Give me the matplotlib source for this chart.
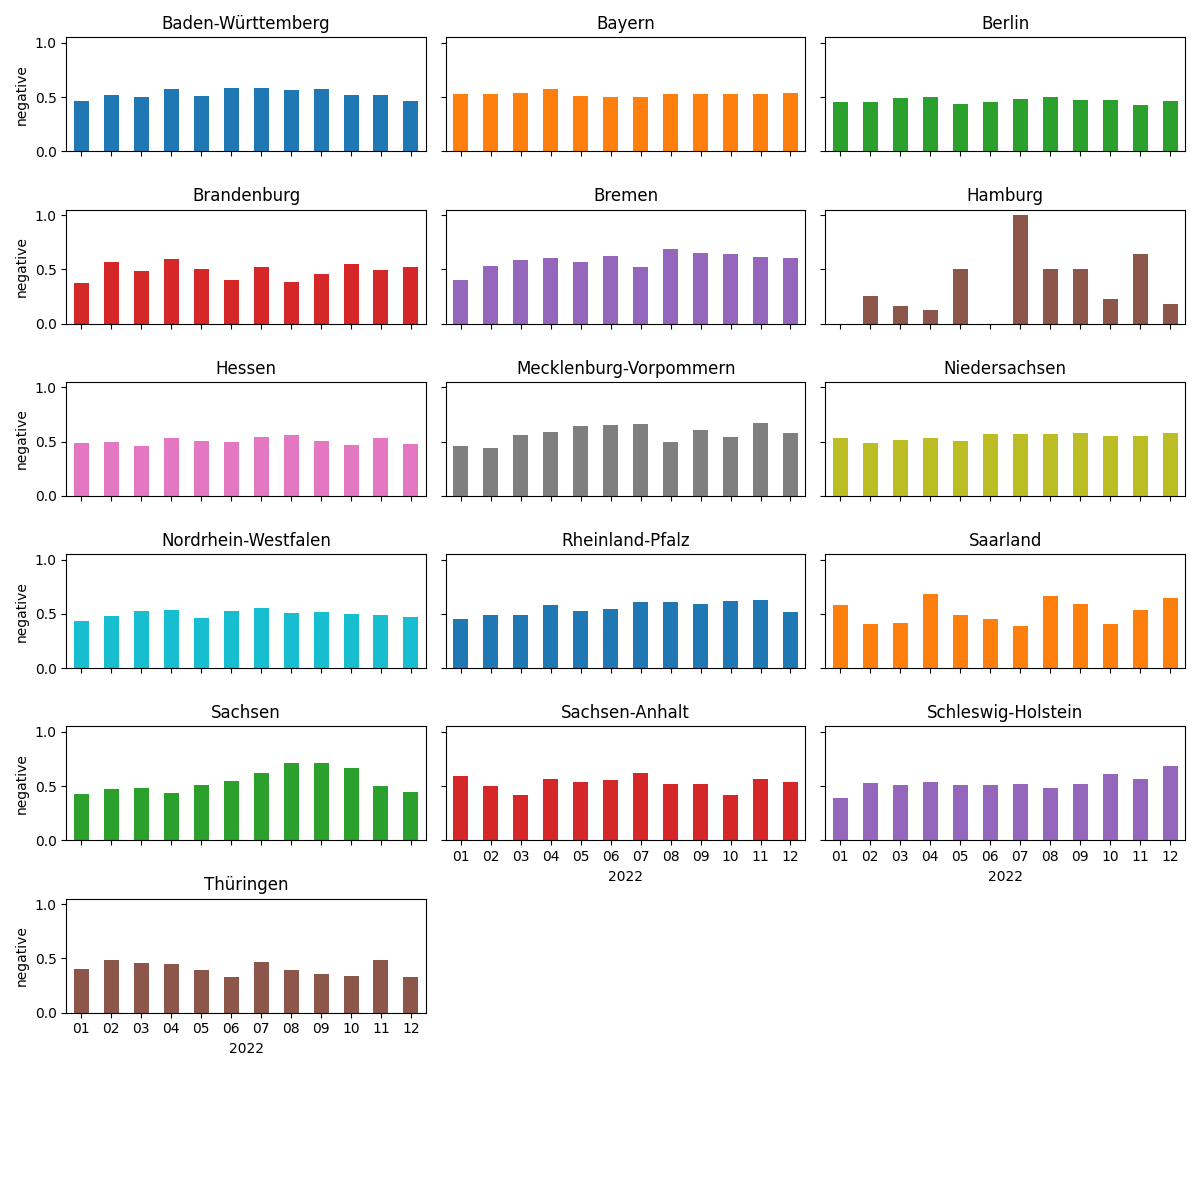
import numpy as np
import matplotlib
matplotlib.use("Agg")
import matplotlib.pyplot as plt

months = ["01", "02", "03", "04", "05", "06", "07", "08", "09", "10", "11", "12"]
year_label = "2022"

states = [
    "Baden-Württemberg", "Bayern", "Berlin", "Brandenburg", "Bremen", "Hamburg",
    "Hessen", "Mecklenburg-Vorpommern", "Niedersachsen", "Nordrhein-Westfalen",
    "Rheinland-Pfalz", "Saarland", "Sachsen", "Sachsen-Anhalt",
    "Schleswig-Holstein", "Thüringen",
]

baden_wuerttemberg = [0.464, 0.518, 0.500, 0.573, 0.509, 0.582, 0.582, 0.564, 0.573, 0.518, 0.518, 0.464]
bayern = [0.527, 0.527, 0.536, 0.573, 0.509, 0.500, 0.500, 0.527, 0.527, 0.527, 0.527, 0.536]
berlin = [0.455, 0.455, 0.491, 0.500, 0.436, 0.455, 0.482, 0.500, 0.473, 0.473, 0.427, 0.464]
brandenburg = [0.377, 0.571, 0.488, 0.598, 0.506, 0.405, 0.525, 0.387, 0.460, 0.552, 0.497, 0.525]
bremen = [0.405, 0.534, 0.589, 0.607, 0.571, 0.626, 0.525, 0.690, 0.653, 0.644, 0.617, 0.607]
hamburg = [0.0, 0.25, 0.1667, 0.125, 0.5, 0.0, 1.0, 0.5, 0.5, 0.2222, 0.6429, 0.1818]
hessen = [0.491, 0.500, 0.455, 0.536, 0.509, 0.500, 0.545, 0.564, 0.509, 0.473, 0.536, 0.482]
meck_vorp = [0.455, 0.445, 0.564, 0.591, 0.645, 0.655, 0.664, 0.500, 0.609, 0.545, 0.673, 0.582]
niedersachsen = [0.536, 0.491, 0.518, 0.536, 0.509, 0.573, 0.573, 0.573, 0.582, 0.555, 0.555, 0.582]
nrw = [0.433, 0.479, 0.525, 0.534, 0.460, 0.525, 0.552, 0.506, 0.515, 0.497, 0.488, 0.469]
rheinland_pfalz = [0.451, 0.488, 0.488, 0.580, 0.525, 0.543, 0.607, 0.607, 0.589, 0.617, 0.626, 0.515]
saarland = [0.580, 0.405, 0.414, 0.681, 0.488, 0.451, 0.387, 0.663, 0.589, 0.405, 0.534, 0.644]
sachsen = [0.43, 0.47, 0.48, 0.44, 0.51, 0.55, 0.62, 0.71, 0.71, 0.67, 0.50, 0.45]
sachsen_anhalt = [0.59, 0.50, 0.42, 0.57, 0.54, 0.56, 0.62, 0.52, 0.52, 0.42, 0.57, 0.54]
schleswig_holstein = [0.39, 0.53, 0.51, 0.54, 0.51, 0.51, 0.52, 0.48, 0.52, 0.61, 0.57, 0.69]
thueringen = [0.40, 0.49, 0.46, 0.45, 0.39, 0.33, 0.47, 0.39, 0.36, 0.34, 0.49, 0.33]

values = [
    baden_wuerttemberg, bayern, berlin, brandenburg, bremen, hamburg,
    hessen, meck_vorp, niedersachsen, nrw, rheinland_pfalz, saarland,
    sachsen, sachsen_anhalt, schleswig_holstein, thueringen,
]

nrows, ncols = 7, 3
fig, axes = plt.subplots(nrows, ncols, figsize=(12, 12), dpi=100, sharey=True)
axes = axes.flatten()
x = np.arange(len(months))
n = len(states)

for i, ax in enumerate(axes):
    if i >= n:
        ax.set_visible(False)
        continue
    ax.bar(x, values[i], width=0.5, color="C%d" % (i % 10))
    ax.set_title(states[i])
    ax.set_xlim(-0.5, len(months) - 0.5)
    ax.set_xticks(x)
    # labels only on the lowest axes of each column
    if i + ncols < n:
        ax.set_xticklabels([])
    else:
        ax.set_xticklabels(months, rotation=0)
        ax.set_xlabel(year_label)
    if i % ncols == 0:
        ax.set_ylabel("negative")

axes[0].set_ylim(0, 1.05)
axes[0].set_yticks([0.0, 0.5, 1.0])

fig.tight_layout()
fig.savefig("out.png", dpi=100)
